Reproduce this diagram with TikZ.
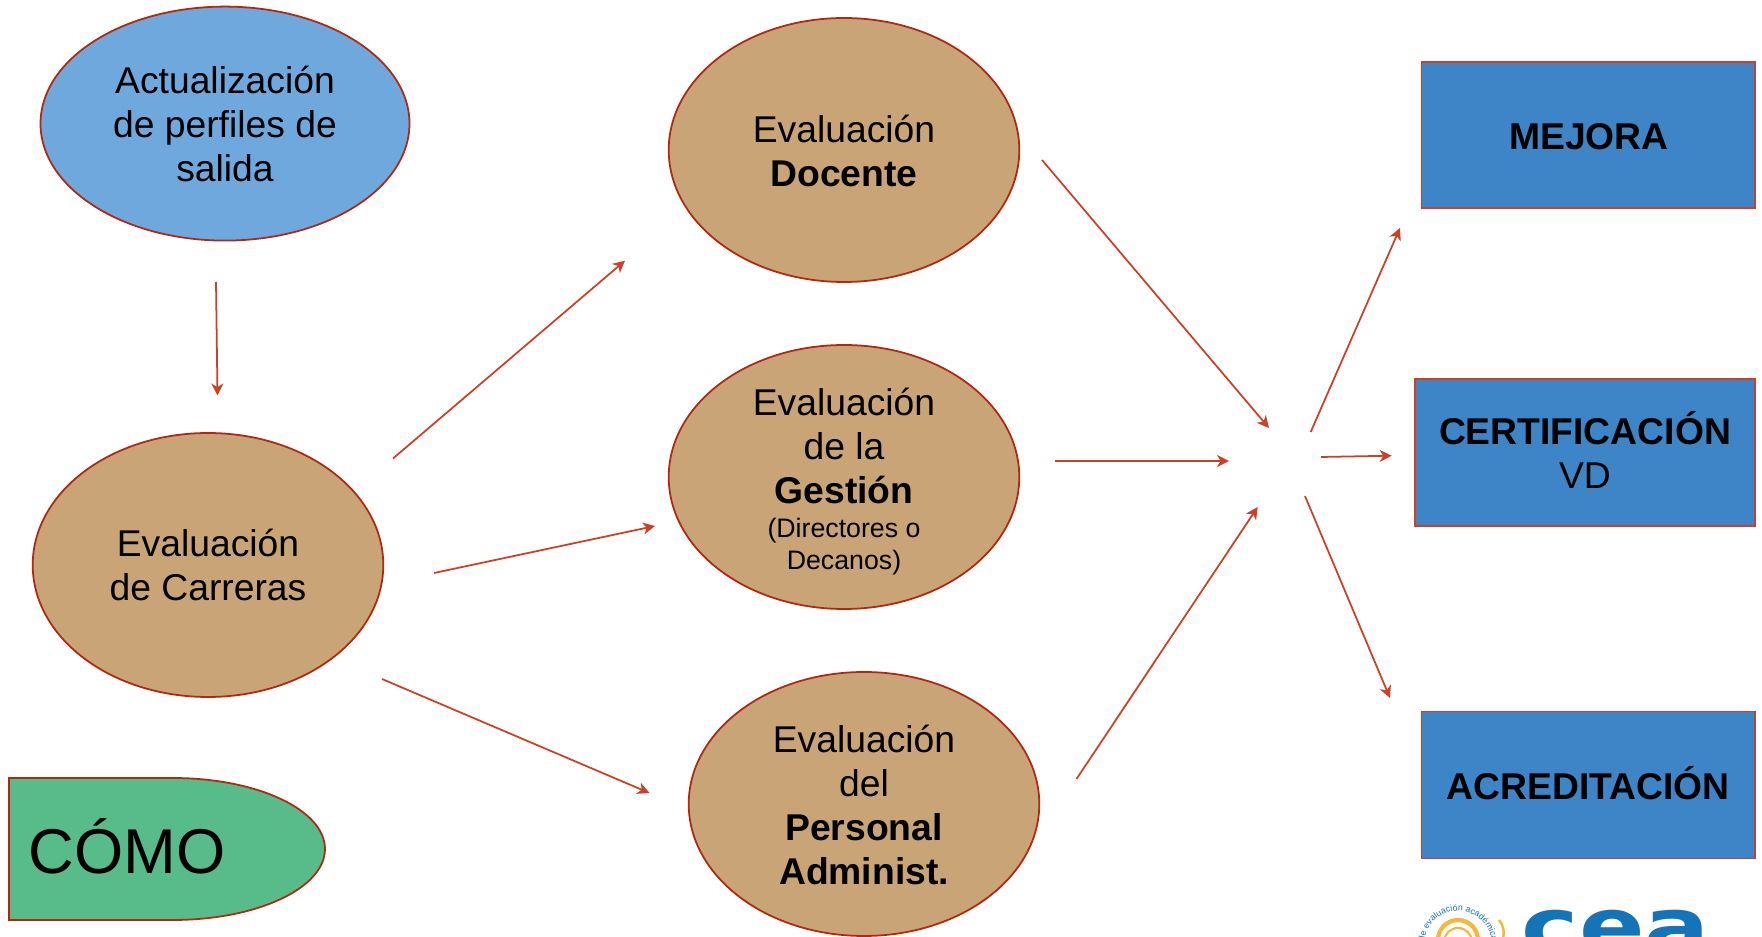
\documentclass[tikz,border=0pt]{standalone}
\usepackage{fontspec}
\setmainfont{Liberation Sans}
\newfontfamily\logofont{DejaVu Sans}
\usetikzlibrary{arrows.meta,decorations.text}
\definecolor{ovalblue}{HTML}{6FA8DC}
\definecolor{ovaltan}{HTML}{C9A477}
\definecolor{boxblue}{HTML}{3D85C6}
\definecolor{comogreen}{HTML}{57BB8A}
\definecolor{edgered}{HTML}{B3260F}
\definecolor{arrowred}{HTML}{CC4125}
\definecolor{logoblue}{HTML}{1573B8}
\definecolor{logogold}{HTML}{F6B73C}
\tikzset{
    oval/.style={draw=edgered,line width=0.5pt},
    box/.style={draw=arrowred,fill=boxblue,line width=0.5pt},
    label/.style={align=center,font=\fontsize{10.6pt}{12.5pt}\selectfont,inner sep=0pt},
    flow/.style={draw=arrowred,line width=0.5pt,-{Stealth[length=3.4pt,width=3.4pt,inset=1pt]}}
}
\newcommand{\smalltext}{\fontsize{7.6pt}{8.96pt}\selectfont}
\begin{document}
\begin{tikzpicture}[x=0.01cm,y=-0.01cm]
    \useasboundingbox (0,0) rectangle (1762,937);
    \clip (0,0) rectangle (1762,937);

    % ovals
    \draw[oval,fill=ovalblue] (225,123.6) ellipse (184.5 and 117);
    \draw[oval,fill=ovaltan] (844,150) ellipse (175.3 and 132);
    \draw[oval,fill=ovaltan] (844,477) ellipse (175.3 and 132);
    \draw[oval,fill=ovaltan] (864,804) ellipse (175.3 and 132);
    \draw[oval,fill=ovaltan] (208,565) ellipse (175.3 and 132);

    \node[label] (perfiles) at (225,124) {Actualización\\de perfiles de\\salida};
    \node[label] (docente) at (844,151) {Evaluación\\\textbf{Docente}};
    \node[label] (gestion) at (844,481.5) {Evaluación\\de la\\\textbf{Gestión}\\[-2.8pt]\smalltext (Directores o\\[-3.5pt]\smalltext Decanos)};
    \node[label] (personal) at (864,805) {Evaluación\\del\\\textbf{Personal}\\\textbf{Administ.}};
    \node[label] (carreras) at (208,565) {Evaluación\\de Carreras};

    % boxes on the right
    \draw[box] (1421.5,62) rectangle (1755,208);
    \draw[box] (1415,379) rectangle (1755,526);
    \draw[box] (1421.5,711.5) rectangle (1755,858.5);

    \node[label] (mejora) at (1589,136.5) {\textbf{MEJORA}};
    \node[label] (certif) at (1585,449.6) {\textbf{CERTIFICACIÓN}\\VD};
    \node[label] (acredit) at (1588,783.6) {\textbf{ACREDITACIÓN}};

    % green tab
    \draw[oval,fill=comogreen] (9,778) -- (173,778) arc (-90:90:152 and 71) -- (9,920) -- cycle;
    \node[anchor=west,inner sep=0pt,font=\fontsize{18pt}{20pt}\selectfont] (como) at (28,846) {CÓMO};

    % arrow ends
    \coordinate (a1) at (216,282);      \coordinate (b1) at (217.5,395.5);
    \coordinate (a2) at (393,458.5);    \coordinate (b2) at (625,260.7);
    \coordinate (a3) at (434,573);      \coordinate (b3) at (655,526);
    \coordinate (a4) at (382,679);      \coordinate (b4) at (649.5,793);
    \coordinate (a5) at (1042,160);     \coordinate (b5) at (1269,428);
    \coordinate (a6) at (1055,461);     \coordinate (b6) at (1229,461);
    \coordinate (a7) at (1076.5,779);   \coordinate (b7) at (1257.7,507);
    \coordinate (a8) at (1310.7,432);   \coordinate (b8) at (1400,228);
    \coordinate (a9) at (1321,457);     \coordinate (b9) at (1391.7,455.7);
    \coordinate (a10) at (1305,496);    \coordinate (b10) at (1390,698);
    \foreach \i in {1,...,10}
        \draw[flow] (a\i) -- (b\i);

    % logo, cut by the lower edge
    \draw[logogold,line width=1.2pt] (1458,940) circle (20);
    \draw[logogold,line width=0.6pt] (1458,942) circle (14);
    \draw[logogold,line width=0.7pt] (1499,920) arc (-40:30:20);
    \path[decorate,decoration={text along path,text align=center,
        text={|\fontsize{2.5pt}{3pt}\selectfont\color{logoblue}|de evaluación académica}}]
        (1424,945) arc (180:360:34);
    \node[anchor=base,inner sep=0pt,text=logoblue,font=\logofont\fontsize{22pt}{24pt}\selectfont\bfseries] (cea) at (1616,954) {\scalebox{1.25}[1]{cea}};
\end{tikzpicture}
\end{document}
